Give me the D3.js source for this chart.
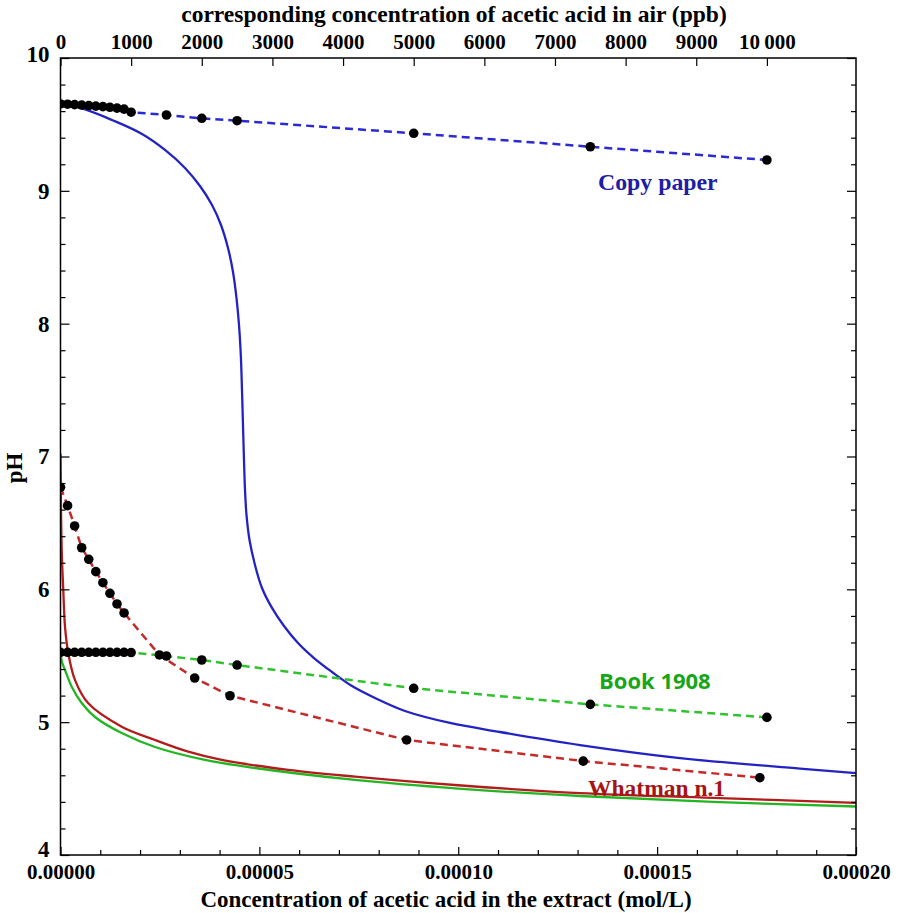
<!DOCTYPE html>
<html><head><meta charset="utf-8">
<script src="https://cdn.jsdelivr.net/npm/d3@7"></script>
<style>
body{margin:0;background:#fff}
text{font-family:"Liberation Serif","Times New Roman",serif;font-weight:bold;fill:#000}
</style>
</head><body>
<svg id="chart" width="898" height="913"></svg>
<script>
// ---------- axis ticks ----------
const airTicks = [0,1000,2000,3000,4000,5000,6000,7000,8000,9000,10000];
const airTickLabels = ["0","1000","2000","3000","4000","5000","6000","7000","8000","9000","10\u2009000"];
const concTicks = [0,0.00005,0.0001,0.00015,0.0002];
const concTickLabels = ["0.00000","0.00005","0.00010","0.00015","0.00020"];
const pHTicks = [4,5,6,7,8,9,10];
const pHTickLabels = ["4","5","6","7","8","9","10"];
const molPerPpb = 1.776e-8; // mol/L of extract per ppb in air

// ---------- measured points (ppb in air, pH) ----------
const copyPpb = [0,100,200,300,400,500,600,700,800,900,1000,1500,2000,2500,5000,7500,10000];
const copyPH  = [9.654,9.652,9.649,9.646,9.642,9.638,9.634,9.629,9.623,9.615,9.592,9.571,9.546,9.528,9.433,9.332,9.232];
const bookPpb = [0,100,200,300,400,500,600,700,800,900,1000,1500,2000,2500,5000,7500,10000];
const bookPH  = [5.526,5.526,5.526,5.526,5.526,5.526,5.526,5.526,5.526,5.526,5.524,5.498,5.468,5.430,5.255,5.134,5.036];
const whatPpb = [0,100,200,300,400,500,600,700,800,900,1400,1900,2400,4900,7400,9900];
const whatPH  = [6.768,6.630,6.477,6.313,6.226,6.133,6.050,5.970,5.890,5.822,5.506,5.332,5.199,4.866,4.707,4.582];

// ---------- model curves (mol/L in extract, pH) ----------
const copyModelC  = [0,5.405e-6,1.2948e-5,2.049e-5,2.627e-5,3.130e-5,3.507e-5,3.809e-5,4.035e-5,4.211e-5,4.337e-5,4.425e-5,4.488e-5,4.533e-5,4.563e-5,4.588e-5,4.613e-5,4.639e-5,4.676e-5,4.752e-5,4.890e-5,5.066e-5,5.317e-5,5.619e-5,5.971e-5,6.373e-5,6.826e-5,7.329e-5,7.907e-5,8.661e-5,9.793e-5,1.105e-4,1.3061e-4,1.5575e-4,1.8592e-4,2.0e-4];
const copyModelPH = [9.654,9.620,9.533,9.428,9.308,9.172,9.036,8.893,8.743,8.570,8.389,8.193,7.990,7.764,7.501,7.237,6.974,6.748,6.560,6.371,6.183,6.010,5.860,5.724,5.596,5.483,5.378,5.272,5.182,5.084,4.994,4.926,4.828,4.730,4.651,4.617];
const whatModelC  = [0,1.5e-7,3.5e-7,7.0e-7,1.13e-6,1.96e-6,3.65e-6,6.99e-6,1.539e-5,2.376e-5,3.213e-5,4.053e-5,5.727e-5,7.404e-5,1.0e-4,1.306e-4,1.64e-4,2.0e-4];
const whatModelPH = [7.02,6.55,6.25,5.995,5.719,5.518,5.317,5.142,4.966,4.866,4.778,4.716,4.641,4.590,4.525,4.466,4.430,4.392];
const bookModelC  = [0,4.0e-7,1.13e-6,2.82e-6,5.33e-6,8.67e-6,1.539e-5,2.376e-5,3.633e-5,4.89e-5,7.404e-5,1.0e-4,1.306e-4,1.64e-4,2.0e-4];
const bookModelPH = [5.52,5.45,5.393,5.267,5.144,5.039,4.918,4.813,4.716,4.655,4.565,4.500,4.444,4.400,4.365];

// ---------- layout ----------
const L = 60.5, R = 856, T = 58, B = 855;
const svg = d3.select("#chart");

const x = d3.scaleLinear().domain([0, 0.0002]).range([L, R]);
const xAir = d3.scaleLinear().domain([0, 0.0002 / molPerPpb]).range([L, R]);
const y = d3.scaleLinear().domain([4, 10]).range([B, T]);

const colors = {
  copy: "#2323c4", copyDash: "#2b2bd2",
  what: "#b31c1c", whatDash: "#c42a2a",
  book: "#22b622", bookDash: "#2fc42f"
};

svg.append("defs").append("clipPath").attr("id","clip")
  .append("rect").attr("x",L).attr("y",T).attr("width",R-L).attr("height",B-T);

const plot = svg.append("g").attr("clip-path","url(#clip)");

// model curves
const modelLine = d3.line().x(d=>x(d[0])).y(d=>y(d[1])).curve(d3.curveCatmullRom.alpha(0.5));
const models = [
  [bookModelC, bookModelPH, colors.book],
  [whatModelC, whatModelPH, colors.what],
  [copyModelC, copyModelPH, colors.copy]
];
models.forEach(([cs, ps, col]) => {
  plot.append("path").datum(cs.map((c,i)=>[c, ps[i]]))
    .attr("d", modelLine).attr("fill","none").attr("stroke",col).attr("stroke-width",2.3);
});

// measured series
const dataLine = d3.line().x(d=>xAir(d[0])).y(d=>y(d[1]));
const series = [
  [copyPpb, copyPH, colors.copyDash],
  [bookPpb, bookPH, colors.bookDash],
  [whatPpb, whatPH, colors.whatDash]
];
series.forEach(([xs, ps, col]) => {
  plot.append("path").datum(xs.map((v,i)=>[v, ps[i]]))
    .attr("d", dataLine).attr("fill","none").attr("stroke",col)
    .attr("stroke-width",2.5).attr("stroke-dasharray","8,5");
});
series.forEach(([xs, ps]) => {
  plot.selectAll(null).data(xs.map((v,i)=>[v, ps[i]])).enter().append("circle")
    .attr("cx", d=>xAir(d[0])).attr("cy", d=>y(d[1])).attr("r",4.8).attr("fill","#000");
});

// ---------- axes ----------
function styleAxis(size){
  return g => {
    g.select(".domain").remove();
    g.selectAll(".tick line").attr("stroke","#000").attr("stroke-width",1.2);
    g.selectAll(".tick text").attr("font-family",null).attr("font-size",null)
      .style("font-size",size+"px").style("font-family",'"Liberation Serif",serif').style("font-weight","bold");
  };
}
const minorPH = d3.range(4, 10.001, 0.2).filter(v => Math.abs(v - Math.round(v)) > 1e-6);
const minorConc = d3.range(0, 0.0002001, 0.00001).filter((v,i) => i % 5 !== 0);

// left
svg.append("g").attr("transform",`translate(${L},0)`)
  .call(d3.axisLeft(y).tickValues(minorPH).tickSize(-5).tickFormat(""))
  .call(styleAxis(21));
const leftMajor = svg.append("g").attr("transform",`translate(${L},0)`)
  .call(d3.axisLeft(y).tickValues(pHTicks).tickSize(-9).tickPadding(11).tickFormat((d,i)=>pHTickLabels[i]))
  .call(styleAxis(23));
leftMajor.selectAll(".tick text").attr("y", d => d === 4 ? -6 : (d === 10 ? -4 : 0));
// right
svg.append("g").attr("transform",`translate(${R},0)`)
  .call(d3.axisRight(y).tickValues(minorPH).tickSize(-5).tickFormat(""))
  .call(styleAxis(21));
svg.append("g").attr("transform",`translate(${R},0)`)
  .call(d3.axisRight(y).tickValues(pHTicks).tickSize(-9).tickFormat(""))
  .call(styleAxis(21));
// bottom
svg.append("g").attr("transform",`translate(0,${B})`)
  .call(d3.axisBottom(x).tickValues(minorConc).tickSize(-5).tickFormat(""))
  .call(styleAxis(21));
svg.append("g").attr("transform",`translate(0,${B})`)
  .call(d3.axisBottom(x).tickValues(concTicks).tickSize(-8).tickPadding(9).tickFormat((d,i)=>concTickLabels[i]))
  .call(styleAxis(21));
// top
svg.append("g").attr("transform",`translate(0,${T})`)
  .call(d3.axisTop(xAir).tickValues(airTicks).tickSize(-8).tickPadding(9).tickFormat((d,i)=>airTickLabels[i]))
  .call(styleAxis(21));

// frame
svg.append("rect").attr("x",L).attr("y",T).attr("width",R-L).attr("height",B-T)
  .attr("fill","none").attr("stroke","#000").attr("stroke-width",1.5);

// titles
svg.append("text").attr("x",446).attr("y",907).attr("text-anchor","middle").style("font-size","23px")
  .text("Concentration of acetic acid in the extract (mol/L)");
svg.append("text").attr("x",454).attr("y",22).attr("text-anchor","middle").style("font-size","23.5px")
  .text("corresponding concentration of acetic acid in air (ppb)");
svg.append("text").attr("transform","translate(22,468) rotate(-90)").attr("text-anchor","middle").style("font-size","23px")
  .text("pH");

// series labels
svg.append("text").attr("x",598).attr("y",190).style("font-size","23.8px").style("fill","#1d1da6").text("Copy paper");
svg.append("text").attr("x",599).attr("y",689).style("font-size","22px").style("fill","#17a617")
  .style("font-family",'"Open Sans","DejaVu Sans",sans-serif').text("Book 1908");
svg.append("text").attr("x",588).attr("y",796).style("font-size","23.5px").style("fill","#a41616").text("Whatman n.1");
</script>
</body></html>
